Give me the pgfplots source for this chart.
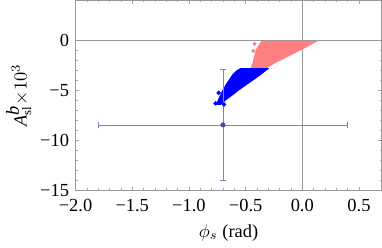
\documentclass[border=0pt]{standalone}
\usepackage{pgfplots}
\pgfplotsset{compat=1.18}
\usepackage{fontspec}
\setmainfont{Liberation Serif}
\definecolor{redreg}{RGB}{255,128,128}
\definecolor{bluereg}{RGB}{0,0,255}
\definecolor{ebcol}{RGB}{128,128,205}
\definecolor{ebpt}{RGB}{70,70,160}
\begin{document}
\begin{tikzpicture}
\begin{axis}[
  scale only axis,
  width=166pt, height=103pt,
  xmin=-2.0, xmax=0.7, ymin=-15, ymax=4,
  xtick={-2,-1.5,-1,-0.5,0,0.5},
  xticklabels={−2.0,−1.5,−1.0,−0.5,0.0,0.5},
  ytick={-15,-10,-5,0},
  yticklabels={−15,−10,−5,0},
  minor x tick num=4,
  minor y tick num=4,
  tick align=inside,
  major tick length=2pt,
  minor tick length=1.1pt,
  tick style={gray!70, line width=0.4pt},
  axis line style={gray!80, line width=0.4pt},
  xlabel={$\phi_{s}$ (rad)},
  ylabel={$\textit{A}^{\textit{b}}_{\mathrm{sl}}{\times}10^{3}$},
  xlabel style={yshift=0pt},
  ylabel style={yshift=-2pt},
  xticklabel style={yshift=-1.2pt},
  tick label style={font=\normalsize},
  clip=true,
]
% reference lines at x=0 and y=0
\addplot[gray!80, line width=0.4pt] coordinates {(0,-15) (0,4)};
\addplot[gray!80, line width=0.4pt] coordinates {(-2,0) (0.7,0)};
% red region
\addplot[fill=redreg, draw=none] coordinates {
 (-0.35,-0.05) (0.14,-0.05) (0.10,-0.30) (0.02,-0.80) (-0.05,-1.20)
 (-0.12,-1.60) (-0.18,-1.95) (-0.235,-2.25) (-0.28,-2.55) (-0.307,-2.75)
 (-0.46,-2.85) (-0.45,-2.60) (-0.438,-2.25) (-0.425,-1.60) (-0.41,-0.95)
 (-0.385,-0.45) (-0.37,-0.20) (-0.36,-0.08)} -- cycle;
\addplot[only marks, mark=*, mark size=0.9pt, color=redreg] coordinates {
 (-0.42,-0.35) (-0.432,-1.05)};
% blue region
\addplot[fill=bluereg, draw=none] coordinates {
 (-0.548,-2.78) (-0.29,-2.78) (-0.32,-3.05) (-0.37,-3.50) (-0.42,-3.90)
 (-0.49,-4.45) (-0.562,-5.03) (-0.62,-5.55) (-0.675,-6.00) (-0.70,-6.30)
 (-0.72,-6.45) (-0.76,-6.45) (-0.75,-6.10) (-0.73,-5.60) (-0.706,-5.03)
 (-0.69,-4.70) (-0.675,-4.39) (-0.645,-3.90) (-0.618,-3.42) (-0.585,-3.05)} -- cycle;
\addplot[only marks, mark=*, mark size=1pt, color=bluereg] coordinates {
 (-0.738,-5.25) (-0.765,-6.30) (-0.69,-6.42)};
% measurement with error bars
\addplot[color=ebcol, line width=0.45pt, mark=*, mark size=1.1pt,
  mark options={fill=ebpt, draw=ebpt},
  error bars/.cd, x dir=both, x explicit, y dir=both, y explicit,
  error mark options={ebcol, mark size=1.8pt, line width=0.45pt, rotate=90},
  error bar style={ebcol, line width=0.45pt}]
  coordinates {(-0.70,-8.46) +- (1.10,5.60)};
\end{axis}
\end{tikzpicture}
\end{document}
